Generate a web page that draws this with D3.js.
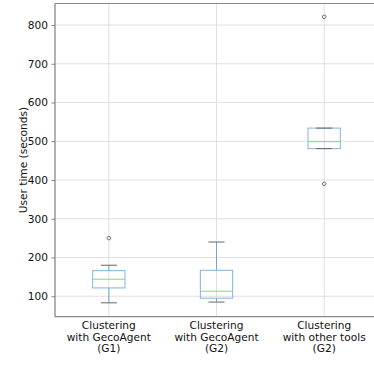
<!DOCTYPE html>
<html><head><meta charset="utf-8">
<script src="https://cdn.jsdelivr.net/npm/d3@7"></script>
<style>body{margin:0;background:#fff;}svg{display:block;font-family:"DejaVu Sans",sans-serif;}</style>
</head><body>
<svg id="c" width="374" height="368"></svg>
<script>
const categories = [["Clustering","with GecoAgent","(G1)"],["Clustering","with GecoAgent","(G2)"],["Clustering","with other tools","(G2)"]];
const whiskerLow = [83, 85, 481];
const q1 = [121.5, 95, 481];
const median = [144, 113, 499];
const q3 = [166, 167, 534];
const whiskerHigh = [180, 240, 534];
const outliers = [[250], [], [390, 821]];
const yTicks = [100, 200, 300, 400, 500, 600, 700, 800];
const yLabel = "User time (seconds)";

const svg = d3.select("#c");
const L = 55, R = 378, T = 3.5, B = 316.7;
const x = d3.scaleLinear().domain([0.5, 3.5]).range([L, R]);
const y = d3.scaleLinear().domain([47.2, 855.6]).range([B, T]);
const pos = categories.map((d, i) => i + 1);
const bw = 0.3, cw = 0.15;

// grid
const g = svg.append("g");
g.selectAll(".hg").data(yTicks).enter().append("line")
  .attr("x1", L).attr("x2", R).attr("y1", d => y(d)).attr("y2", d => y(d))
  .attr("stroke", "#dcdcdc").attr("stroke-width", 0.9);
g.selectAll(".vg").data(pos).enter().append("line")
  .attr("y1", T).attr("y2", B).attr("x1", d => x(d)).attr("x2", d => x(d))
  .attr("stroke", "#dcdcdc").attr("stroke-width", 0.9);

// y axis
const yAxis = d3.axisLeft(y).tickValues(yTicks).tickSize(3.5).tickPadding(3.5);
const ya = svg.append("g").attr("transform", `translate(${L},0)`).call(yAxis);
ya.select(".domain").remove();
ya.selectAll("line").attr("stroke", "#666").attr("stroke-width", 0.8);
ya.selectAll("text").attr("font-size", "10.6px").attr("fill", "#111").attr("font-family", "DejaVu Sans");

// boxes
const bx = svg.append("g");
pos.forEach((p, i) => {
  const cx = x(p);
  bx.append("line").attr("x1", cx).attr("x2", cx).attr("y1", y(q3[i])).attr("y2", y(whiskerHigh[i]))
    .attr("stroke", "#6fa8d6").attr("stroke-width", 1);
  bx.append("line").attr("x1", cx).attr("x2", cx).attr("y1", y(q1[i])).attr("y2", y(whiskerLow[i]))
    .attr("stroke", "#6fa8d6").attr("stroke-width", 1);
  bx.append("rect").attr("x", x(p - bw / 2)).attr("width", x(p + bw / 2) - x(p - bw / 2))
    .attr("y", y(q3[i])).attr("height", y(q1[i]) - y(q3[i]))
    .attr("fill", "none").attr("stroke", "#7fb4de").attr("stroke-width", 1);
  [whiskerLow[i], whiskerHigh[i]].forEach(v => {
    bx.append("line").attr("x1", x(p - cw / 2)).attr("x2", x(p + cw / 2)).attr("y1", y(v)).attr("y2", y(v))
      .attr("stroke", "#666").attr("stroke-width", 1);
  });
  bx.append("line").attr("x1", x(p - bw / 2)).attr("x2", x(p + bw / 2)).attr("y1", y(median[i])).attr("y2", y(median[i]))
    .attr("stroke", "#8fd08f").attr("stroke-width", 1);
  outliers[i].forEach(v => {
    bx.append("circle").attr("cx", cx).attr("cy", y(v)).attr("r", 1.8)
      .attr("fill", "none").attr("stroke", "#555").attr("stroke-width", 0.8);
  });
});

// spines
svg.append("line").attr("x1", L).attr("x2", L).attr("y1", T).attr("y2", B).attr("stroke", "#888").attr("stroke-width", 1.3);
svg.append("line").attr("x1", L).attr("x2", R).attr("y1", B).attr("y2", B).attr("stroke", "#888").attr("stroke-width", 1.2);
svg.append("line").attr("x1", L).attr("x2", R).attr("y1", T).attr("y2", T).attr("stroke", "#888").attr("stroke-width", 1.2);

// x labels
const xl = svg.append("g");
pos.forEach((p, i) => {
  const t = xl.append("text").attr("x", x(p)).attr("y", B + 12.5).attr("text-anchor", "middle")
    .attr("font-size", "10.6px").attr("fill", "#111");
  categories[i].forEach((line, j) => {
    t.append("tspan").attr("x", x(p)).attr("dy", j === 0 ? 0 : 11.3).text(line);
  });
});

// y label
svg.append("text").attr("transform", `translate(26.5,${(T + B) / 2}) rotate(-90)`)
  .attr("text-anchor", "middle").attr("font-size", "10.6px").attr("fill", "#111").text(yLabel);
</script>
</body></html>
